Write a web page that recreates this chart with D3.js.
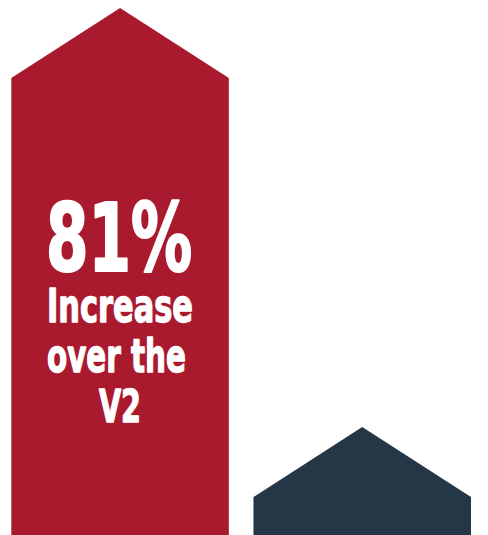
<!DOCTYPE html>
<html>
<head>
<meta charset="utf-8">
<script src="https://cdn.jsdelivr.net/npm/d3@7"></script>
<style>
  html, body { margin: 0; padding: 0; background: #fff; }
  svg { display: block; }
</style>
</head>
<body>
<svg id="chart" width="488" height="535"></svg>
<script>
const categories = ["New", "V2"];
const values = [100, 8.3];
const colors = ["#AA1A2F", "#253647"];
const labelLines = ["81%", "Increase", "over the", "V2"];

const W = 488, H = 535;
const svg = d3.select("#chart");

const x = d3.scaleBand().domain(categories).range([11.3, 471]).paddingInner(0.1017).paddingOuter(0);
const y = d3.scaleLinear().domain([0, 100]).range([H, 78]);
const head = 70;

svg.selectAll("path.bar")
  .data(categories)
  .join("path")
  .attr("class", "bar")
  .attr("fill", (d, i) => colors[i])
  .attr("d", (d, i) => {
    const x0 = x(d), x1 = x0 + x.bandwidth(), xm = (x0 + x1) / 2;
    const yt = y(values[i]);
    return `M${x0},${H}L${x0},${yt}L${xm},${yt - head}L${x1},${yt}L${x1},${H}Z`;
  });

const fontFam = "'Liberation Sans Narrow', 'DejaVu Sans Condensed', 'Liberation Sans', sans-serif";
const specs = [
  { size: 94, base: 271, len: 146, x: 119, sw: 2.2 },
  { size: 47, base: 322, len: 146, x: 120, sw: 1.3 },
  { size: 47, base: 372, len: 139, x: 116.5, sw: 1.3 },
  { size: 45, base: 422, len: 42, x: 120, sw: 1.3 }
];
svg.selectAll("text.lbl")
  .data(labelLines)
  .join("text")
  .attr("class", "lbl")
  .attr("x", (d, i) => specs[i].x)
  .attr("y", (d, i) => specs[i].base)
  .attr("text-anchor", "middle")
  .attr("fill", "#fff")
  .attr("stroke", "#fff")
  .attr("stroke-width", (d, i) => specs[i].sw)
  .attr("stroke-linejoin", "round")
  .attr("font-family", fontFam)
  .attr("font-weight", "bold")
  .attr("font-size", (d, i) => specs[i].size)
  .attr("textLength", (d, i) => specs[i].len)
  .attr("lengthAdjust", "spacingAndGlyphs")
  .text(d => d);
</script>
</body>
</html>
